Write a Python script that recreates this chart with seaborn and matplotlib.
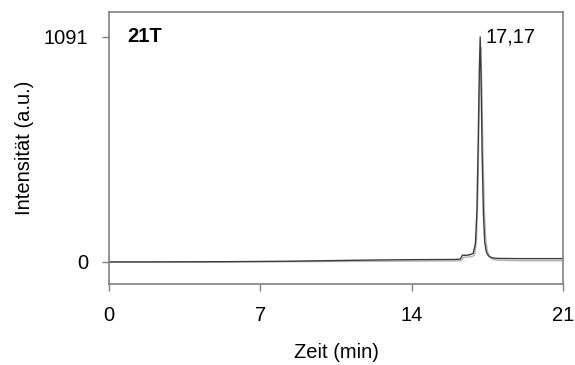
import numpy as np
import pandas as pd
import matplotlib
matplotlib.use("Agg")
import matplotlib.pyplot as plt
import seaborn as sns

# Chromatogram traces (time in min, intensity in a.u.)
t_dark = [0.0, 2.0, 5.0, 8.0, 10.0, 12.0, 14.0, 16.0, 16.25, 16.35, 16.5, 16.7, 16.85,
          16.95, 17.02, 17.08, 17.13, 17.17, 17.21, 17.26, 17.32, 17.38, 17.45, 17.55,
          17.7, 18.0, 19.0, 20.0, 21.0]
i_dark = [0, 0, 1, 3, 6, 9, 11, 12, 14, 33, 32, 35, 42,
          90, 250, 600, 930, 1091, 900, 520, 230, 95, 50, 30,
          20, 17, 16, 16, 16]

t_light = [0.0, 2.0, 5.0, 8.0, 10.0, 12.0, 14.0, 16.0, 16.3, 16.4, 16.6, 16.8, 16.92,
           17.0, 17.06, 17.12, 17.17, 17.2, 17.25, 17.3, 17.36, 17.42, 17.5, 17.6,
           17.75, 18.0, 19.0, 20.0, 21.0]
i_light = [0, 0, 0, 1, 2, 3, 4, 5, 6, 22, 24, 26, 35,
           110, 320, 720, 1000, 1040, 830, 520, 260, 120, 55, 25,
           12, 8, 6, 6, 6]

x_ticks = [0, 7, 14, 21]
y_ticks = [0, 1091]
peak_time = 17.17
peak_label = "17,17"
sample = "21T"

df = pd.concat([
    pd.DataFrame({"Zeit": t_light, "Intensität": i_light, "Spur": "B"}),
    pd.DataFrame({"Zeit": t_dark, "Intensität": i_dark, "Spur": "A"}),
])

sns.set_theme(style="white")
plt.rcParams["font.family"] = ["Liberation Sans", "DejaVu Sans"]

FS = 14.5

fig = plt.figure(figsize=(5.75, 3.65), dpi=100)
ax = fig.add_axes([109 / 575, 1 - 284 / 365, (563 - 109) / 575, (284 - 12) / 365])

sns.lineplot(data=df, x="Zeit", y="Intensität", hue="Spur",
             palette={"B": "#b4b4b4", "A": "#3c3c3c"}, linewidth=1.0,
             estimator=None, sort=False, legend=False, ax=ax)

ax.set_xlim(0, 21)
ax.set_ylim(-107, 1212)
ax.set_xticks(x_ticks)
ax.set_xticklabels([str(v) for v in x_ticks])
ax.set_yticks(y_ticks)
ax.set_yticklabels([str(v) for v in y_ticks])

for s in ax.spines.values():
    s.set_color("#808080")
    s.set_linewidth(1.2)

ax.tick_params(axis="both", which="major", direction="out", length=5, width=1,
               color="#808080", labelsize=FS, labelcolor="black",
               bottom=True, left=True, top=False, right=False)
ax.tick_params(axis="x", pad=11)
ax.tick_params(axis="y", pad=10)

ax.set_xlabel("Zeit (min)", fontsize=FS, color="black", labelpad=13)
ax.set_ylabel("Intensität (a.u.)", fontsize=FS, color="black", labelpad=7)

ax.text(0.04, 1091, sample, transform=ax.get_yaxis_transform(), fontsize=FS,
        fontweight="bold", va="center", ha="left", color="black")
ax.annotate(peak_label, xy=(peak_time, 1091), xytext=(4, 0),
            textcoords="offset points", fontsize=FS, va="center", ha="left", color="black")

fig.savefig("out.png", dpi=100, facecolor="white")
